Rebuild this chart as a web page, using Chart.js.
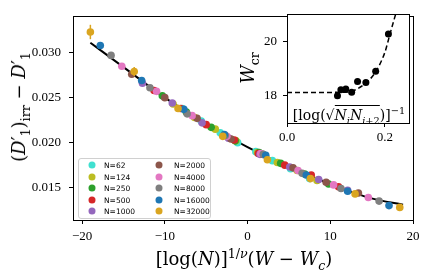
<!DOCTYPE html>
<html>
<head>
<meta charset="utf-8">
<script src="https://cdn.jsdelivr.net/npm/chart.js@4.4.1/dist/chart.umd.min.js"></script>
<style>
  body { margin: 0; background: #fff; }
  #wrap { position: relative; width: 427px; height: 278px; font-family: 'DejaVu Serif', serif; color: #000; }
  canvas { position: absolute; left: 0; top: 0; }
  .lbl { position: absolute; white-space: nowrap; transform: translate(-50%, -50%); line-height: 1; }
  .lbl sub, .lbl sup { font-size: 70%; line-height: 0; }
  .rad { border-top: 1px solid #000; padding-top: 1px; }
  #legend { position: absolute; left: 78px; top: 158px; width: 131px; height: 59px; border: 1px solid #d0d0d0;
            border-radius: 3px; background: rgba(255,255,255,0.8); }
  .lg-dot { position: absolute; width: 7px; height: 7px; border-radius: 50%; transform: translate(-50%, -50%); }
  .lg-txt { position: absolute; font-family: 'DejaVu Sans', sans-serif; font-size: 7.5px; transform: translateY(-50%); white-space: nowrap; }
</style>
</head>
<body>
<div id="wrap">
  <canvas id="mainChart" width="427" height="278"></canvas>
  <canvas id="insetChart" width="185" height="145" style="left:230px;top:0px;"></canvas>
  <div class="lbl" style="left:19px;top:107px;font-size:18px;transform:translate(-50%,-50%) rotate(-90deg);">(<i>D</i>′<sub>1</sub>)<sub>irr</sub> − <i>D</i>′<sub>1</sub></div>
  <div class="lbl" style="left:244px;top:259px;font-size:18px;">[log(<i>N</i>)]<sup>1/<i>ν</i></sup>(<i>W</i> − <i>W</i><sub><i>c</i></sub>)</div>
  <div class="lbl" style="left:248px;top:68px;font-size:18px;transform:translate(-50%,-50%) rotate(-90deg);"><i>W</i><sub>cr</sub></div>
  <div class="lbl" style="left:349px;top:115px;font-size:14px;">[log(√<span class="rad"><i>N</i><sub><i>i</i></sub><i>N</i><sub><i>i</i>+2</sub></span>)]<sup>−1</sup></div>
  <div id="legend"></div>
</div>
<script>
// main collapse data, one list per system size
const sizes = ["N=62", "N=124", "N=250", "N=500", "N=1000", "N=2000", "N=4000", "N=8000", "N=16000", "N=32000"];
const colors = ["#40e0d0", "#bcbd22", "#2ca02c", "#d62728", "#9467bd", "#8c564b", "#e377c2", "#7f7f7f", "#1f77b4", "#daa520"];
const seriesX = [
  [-7.9, -5.6, -3.3, -1.2, 1.0, 3.0, 5.2, 7.5],
  [-9.0, -6.4, -3.9, -1.4, 1.2, 3.6, 6.0, 8.4],
  [-10.3, -7.4, -4.4, -1.5, 1.4, 4.0, 6.9, 9.8],
  [-11.3, -8.1, -5.0, -1.6, 1.3, 4.5, 7.7, 11.0],
  [-12.7, -9.1, -5.5, -2.3, 1.5, 5.1, 8.6, 12.1],
  [-14.0, -10.0, -6.1, -2.0, 1.8, 5.5, 9.5, 13.4],
  [-15.2, -11.0, -6.7, -2.5, 1.6, 6.1, 10.4, 14.6],
  [-16.5, -11.8, -7.3, -2.7, 1.9, 6.6, 11.3, 15.9],
  [-17.8, -12.8, -7.7, -2.8, 2.2, 7.1, 12.1, 17.1],
  [-19.0, -13.7, -8.4, -3.0, 2.4, 7.6, 13.0, 18.4]
];
const seriesY = [
  [0.0238, 0.0224, 0.0211, 0.0200, 0.0190, 0.0180, 0.0171, 0.0160],
  [0.0243, 0.0228, 0.0215, 0.0202, 0.0189, 0.0178, 0.0169, 0.0158],
  [0.0252, 0.0234, 0.0217, 0.0202, 0.0189, 0.0177, 0.0165, 0.0154],
  [0.0258, 0.0238, 0.0220, 0.0203, 0.0188, 0.0175, 0.0164, 0.0151],
  [0.0266, 0.0244, 0.0222, 0.0205, 0.0187, 0.0173, 0.0159, 0.0147],
  [0.0276, 0.0250, 0.0227, 0.0204, 0.0187, 0.0172, 0.0156, 0.0144],
  [0.0285, 0.0257, 0.0230, 0.0207, 0.0188, 0.0169, 0.0153, 0.0139],
  [0.0297, 0.0261, 0.0232, 0.0208, 0.0187, 0.0166, 0.0149, 0.0135],
  [0.0308, 0.0269, 0.0237, 0.0209, 0.0186, 0.0164, 0.0146, 0.0130],
  [0.0323, 0.0279, 0.0238, 0.0207, 0.0181, 0.0160, 0.0143, 0.0128]
];
// error bars only visible on the largest size
const errLargest = [0.0008, 0.0005, 0.0004, 0.0003, 0.0003, 0.0003, 0.0003, 0.0003];

// scaling function (solid black)
const fitX = [-19, -15, -10, -5, 0, 5, 10, 15, 18.8];
const fitY = [0.0311, 0.0284, 0.0250, 0.0221, 0.0195, 0.0173, 0.0154, 0.0138, 0.0131];

const xTicks = [-20, -10, 0, 10, 20];
const yTicks = [0.015, 0.020, 0.025, 0.030];

// inset: W_cr vs 1/log(sqrt(N_i N_i+2))
const insetX = [0.103, 0.110, 0.120, 0.132, 0.144, 0.161, 0.181, 0.207];
const insetY = [18.0, 18.22, 18.25, 18.13, 18.52, 18.48, 18.9, 20.26];
const insetFitX = [0, 0.06, 0.12, 0.14, 0.16, 0.18, 0.20, 0.21, 0.222];
const insetFitY = [18.12, 18.12, 18.13, 18.22, 18.45, 18.85, 19.6, 20.25, 21.0];
const insetXTicks = [0.0, 0.2];
const insetYTicks = [18, 20];

const fmtMinus = (s) => String(s).replace('-', '\u2212');
const tickFont = { family: "'Liberation Serif', serif", size: 13 };

const frame = {
  id: 'frame',
  beforeDatasetsDraw(chart) {
    const a = chart.chartArea, ctx = chart.ctx;
    ctx.save();
    ctx.fillStyle = '#fff';
    if (chart.canvas.id === 'insetChart') ctx.fillRect(a.left, a.top, a.right - a.left, a.bottom - a.top);
    ctx.restore();
  },
  afterDraw(chart) {
    const a = chart.chartArea, ctx = chart.ctx;
    ctx.save();
    ctx.strokeStyle = '#000';
    ctx.lineWidth = 1;
    ctx.strokeRect(Math.round(a.left) + 0.5, Math.round(a.top) + 0.5, Math.round(a.right - a.left), Math.round(a.bottom - a.top));
    ctx.restore();
  }
};

const errorBars = {
  id: 'errorBars',
  afterDatasetsDraw(chart) {
    const ctx = chart.ctx, xs = chart.scales.x, ys = chart.scales.y;
    const i = sizes.length - 1;
    ctx.save();
    ctx.strokeStyle = colors[i];
    ctx.lineWidth = 1.5;
    seriesX[i].forEach((x, k) => {
      const px = xs.getPixelForValue(x);
      ctx.beginPath();
      ctx.moveTo(px, ys.getPixelForValue(seriesY[i][k] - errLargest[k]));
      ctx.lineTo(px, ys.getPixelForValue(seriesY[i][k] + errLargest[k]));
      ctx.stroke();
    });
    ctx.restore();
  }
};

const mainSets = sizes.map((lab, i) => ({
  type: 'scatter',
  label: lab,
  data: seriesX[i].map((x, k) => ({ x: x, y: seriesY[i][k] })),
  backgroundColor: colors[i],
  borderColor: colors[i],
  pointRadius: 3.8,
  borderWidth: 0,
  order: sizes.length - i
}));
mainSets.push({
  type: 'line',
  label: 'fit',
  data: fitX.map((x, k) => ({ x: x, y: fitY[k] })),
  borderColor: '#000',
  borderWidth: 2,
  pointRadius: 0,
  cubicInterpolationMode: 'monotone',
  order: 100
});

const axisGrid = { display: true, drawOnChartArea: false, drawTicks: true, tickLength: 4, color: '#000' };

new Chart(document.getElementById('mainChart'), {
  type: 'scatter',
  data: { datasets: mainSets },
  options: {
    responsive: false,
    animation: false,
    layout: { padding: { left: 0, top: 7, right: 14, bottom: 0 } },
    plugins: { legend: { display: false }, tooltip: { enabled: false } },
    scales: {
      x: {
        type: 'linear', min: -21.1, max: 20,
        afterFit: (s) => { s.height = 58; },
        afterBuildTicks: (s) => { s.ticks = xTicks.map(v => ({ value: v })); },
        ticks: { font: tickFont, color: '#000', padding: 5, maxRotation: 0, callback: (v) => fmtMinus(v) },
        grid: axisGrid, border: { display: false }
      },
      y: {
        type: 'linear', min: 0.0114, max: 0.0341,
        afterFit: (s) => { s.width = 73; },
        afterBuildTicks: (s) => { s.ticks = yTicks.map(v => ({ value: v })); },
        ticks: { font: tickFont, color: '#000', padding: 8, callback: (v) => v.toFixed(3) },
        grid: axisGrid, border: { display: false }
      }
    }
  },
  plugins: [frame, errorBars]
});

new Chart(document.getElementById('insetChart'), {
  type: 'scatter',
  data: {
    datasets: [
      {
        type: 'scatter', label: 'Wcr',
        data: insetX.map((x, k) => ({ x: x, y: insetY[k] })),
        backgroundColor: '#000', borderWidth: 0, pointRadius: 3.5, order: 1
      },
      {
        type: 'line', label: 'extrapolation',
        data: insetFitX.map((x, k) => ({ x: x, y: insetFitY[k] })),
        borderColor: '#000', borderWidth: 1.5, borderDash: [5, 3], pointRadius: 0,
        cubicInterpolationMode: 'monotone', order: 2
      }
    ]
  },
  options: {
    responsive: false,
    animation: false,
    layout: { padding: { left: 0, top: 12, right: 6, bottom: 0 } },
    plugins: { legend: { display: false }, tooltip: { enabled: false } },
    scales: {
      x: {
        type: 'linear', min: 0, max: 0.249,
        afterFit: (s) => { s.height = 22; },
        afterBuildTicks: (s) => { s.ticks = insetXTicks.map(v => ({ value: v })); },
        ticks: { font: tickFont, color: '#000', padding: 3, maxRotation: 0, callback: (v) => v.toFixed(1) },
        grid: axisGrid, border: { display: false }
      },
      y: {
        type: 'linear', min: 17, max: 21,
        afterFit: (s) => { s.width = 57; },
        afterBuildTicks: (s) => { s.ticks = insetYTicks.map(v => ({ value: v })); },
        ticks: { font: tickFont, color: '#000', padding: 6, callback: (v) => String(v) },
        grid: axisGrid, border: { display: false }
      }
    }
  },
  plugins: [frame]
});

// legend inside the main axes, two columns of five
const legend = document.getElementById('legend');
const rowY = [6, 17.5, 29, 40.5, 52];
sizes.forEach((lab, i) => {
  const col = Math.floor(i / 5), row = i % 5;
  const dot = document.createElement('div');
  dot.className = 'lg-dot';
  dot.style.left = (col === 0 ? 13 : 80) + 'px';
  dot.style.top = rowY[row] + 'px';
  dot.style.background = colors[i];
  legend.appendChild(dot);
  const txt = document.createElement('div');
  txt.className = 'lg-txt';
  txt.style.left = (col === 0 ? 25 : 95) + 'px';
  txt.style.top = rowY[row] + 'px';
  txt.textContent = lab;
  legend.appendChild(txt);
});
</script>
</body>
</html>
